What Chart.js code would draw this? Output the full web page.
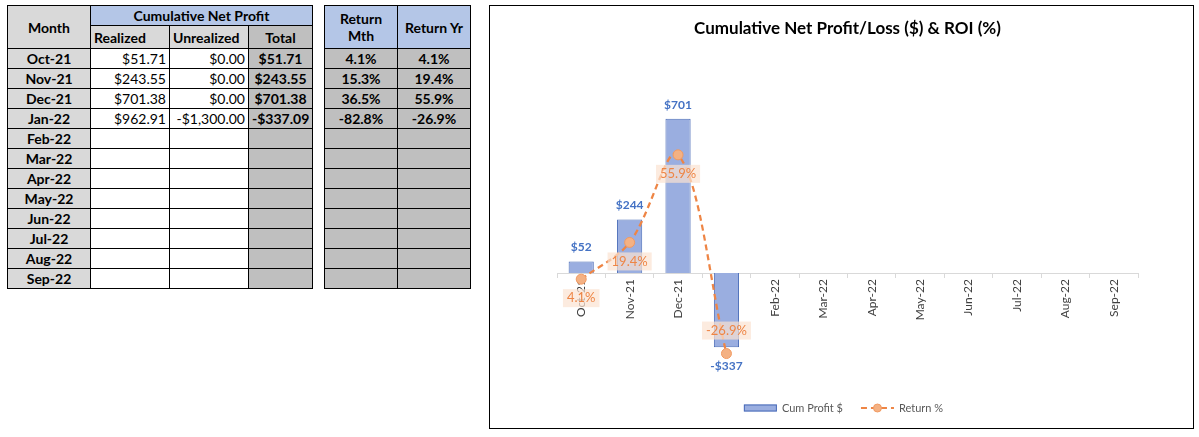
<!DOCTYPE html>
<html>
<head>
<meta charset="utf-8">
<script src="https://cdn.jsdelivr.net/npm/chart.js@4.4.0/dist/chart.umd.min.js"></script>
<style>
  body { margin: 0; background: #fff; font-family: Lato, "Open Sans", sans-serif; }
  table { position: absolute; border-collapse: collapse; table-layout: fixed; font-size: 14px; }
  td, th { border: 1px solid #000; padding: 0 3px; height: 19px; white-space: nowrap; overflow: hidden; }
  th { font-weight: bold; }
  .gray { background: #d9d9d9; }
  .dark { background: #bfbfbf; }
  .blue { background: #b4c6e7; }
  .num { text-align: right; }
  .ctr { text-align: center; font-weight: bold; }
  .lft { text-align: left; }
  #profitTable { left: 7px; top: 5px; width: 305px; }
  #returnTable { left: 324px; top: 5px; width: 146px; }
  #chartBox { position: absolute; left: 489px; top: 5px; width: 703px; height: 422px; border: 1px solid #000; }
</style>
</head>
<body>
<table id="profitTable">
  <colgroup><col style="width:83px"><col style="width:79px"><col style="width:79px"><col style="width:64px"></colgroup>
  <thead>
    <tr style="height:20px"><th rowspan="2" class="gray">Month</th><th colspan="3" class="blue">Cumulative Net Profit</th></tr>
    <tr style="height:23px"><th class="gray lft">Realized</th><th class="gray lft">Unrealized</th><th class="dark">Total</th></tr>
  </thead>
  <tbody id="profitBody"></tbody>
</table>
<table id="returnTable">
  <colgroup><col style="width:73px"><col style="width:73px"></colgroup>
  <thead>
    <tr style="height:20px"><th rowspan="2" class="blue">Return<br>Mth</th><th rowspan="2" class="blue">Return Yr</th></tr>
    <tr style="height:23px"></tr>
  </thead>
  <tbody id="returnBody"></tbody>
</table>
<div id="chartBox"><canvas id="roiChart"></canvas></div>
<script>
// Months and values
const months = ['Oct-21', 'Nov-21', 'Dec-21', 'Jan-22', 'Feb-22', 'Mar-22',
                'Apr-22', 'May-22', 'Jun-22', 'Jul-22', 'Aug-22', 'Sep-22'];
const realized = [51.71, 243.55, 701.38, 962.91];
const unrealized = [0, 0, 0, -1300];
const cumProfit = [51.71, 243.55, 701.38, -337.09];
const returnMth = [4.1, 15.3, 36.5, -82.8];
const returnYr = [4.1, 19.4, 55.9, -26.9];

function money(v) {
    const s = '$' + Math.abs(v).toLocaleString('en-US', { minimumFractionDigits: 2, maximumFractionDigits: 2 });
    return v < 0 ? '-' + s : s;
}

// Fill the two tables
const profitBody = document.getElementById('profitBody');
const returnBody = document.getElementById('returnBody');
months.forEach((m, i) => {
    const has = i < cumProfit.length;
    const tr = document.createElement('tr');
    tr.style.height = '20px';
    tr.innerHTML = `<td class="gray ctr">${m}</td>` +
        `<td class="num">${has ? money(realized[i]) : ''}</td>` +
        `<td class="num">${has ? money(unrealized[i]) : ''}</td>` +
        `<td class="dark ctr">${has ? money(cumProfit[i]) : ''}</td>`;
    profitBody.appendChild(tr);

    const tr2 = document.createElement('tr');
    tr2.style.height = '20px';
    tr2.innerHTML = `<td class="dark ctr">${has ? returnMth[i].toFixed(1) + '%' : ''}</td>` +
        `<td class="dark ctr">${has ? returnYr[i].toFixed(1) + '%' : ''}</td>`;
    returnBody.appendChild(tr2);
});

const BLUE_FILL = '#9aaee0';
const BLUE_EDGE = '#4a6cb8';
const ORANGE = '#ee8545';

// Value labels on bars and points
const labelPlugin = {
    id: 'valueLabels',
    afterDatasetsDraw(chart) {
        const ctx = chart.ctx;
        ctx.save();
        ctx.textAlign = 'center';
        ctx.textBaseline = 'middle';

        const barMeta = chart.getDatasetMeta(0);
        ctx.font = 'bold 12px Lato';
        ctx.fillStyle = '#4472c4';
        barMeta.data.forEach((el, i) => {
            const v = cumProfit[i];
            const txt = (v < 0 ? '-$' : '$') + Math.round(Math.abs(v));
            const y = v >= 0 ? el.y - 14 : el.y + 19;
            ctx.fillText(txt, el.x, y);
        });

        const lineMeta = chart.getDatasetMeta(1);
        ctx.font = '13px Lato';
        lineMeta.data.forEach((el, i) => {
            const v = returnYr[i];
            const txt = v.toFixed(1) + '%';
            const y = v >= 0 ? el.y + 19 : el.y - 23;
            const w = ctx.measureText(txt).width + 8;
            ctx.fillStyle = 'rgba(251, 226, 210, 0.7)';
            ctx.fillRect(el.x - w / 2, y - 9, w, 18);
            ctx.fillStyle = ORANGE;
            ctx.fillText(txt, el.x, y);
        });
        ctx.restore();
    }
};

// Bottom legend with a dashed line + marker for the ROI series
const legendPlugin = {
    id: 'bottomLegend',
    afterDraw(chart) {
        const ctx = chart.ctx;
        ctx.save();
        ctx.font = '11px Lato';
        ctx.textBaseline = 'middle';
        const t1 = 'Cum Profit $', t2 = 'Return %';
        const w1 = ctx.measureText(t1).width, w2 = ctx.measureText(t2).width;
        const total = 33 + 5 + w1 + 18 + 33 + 5 + w2;
        let x = chart.width / 2 - total / 2 + 2;
        const y = 402;

        ctx.fillStyle = BLUE_FILL;
        ctx.strokeStyle = BLUE_EDGE;
        ctx.lineWidth = 1;
        ctx.fillRect(x, y - 3.5, 33, 7);
        ctx.strokeRect(x + 0.5, y - 3, 32, 6);
        x += 38;
        ctx.fillStyle = '#595959';
        ctx.fillText(t1, x, y);
        x += w1 + 18;

        ctx.strokeStyle = ORANGE;
        ctx.lineWidth = 2;
        ctx.setLineDash([6, 4]);
        ctx.beginPath();
        ctx.moveTo(x, y);
        ctx.lineTo(x + 33, y);
        ctx.stroke();
        ctx.setLineDash([]);
        ctx.fillStyle = '#f4b183';
        ctx.beginPath();
        ctx.arc(x + 16.5, y, 4, 0, Math.PI * 2);
        ctx.fill();
        ctx.strokeStyle = '#f19a62';
        ctx.lineWidth = 1;
        ctx.stroke();
        x += 38;
        ctx.fillStyle = '#595959';
        ctx.fillText(t2, x, y);
        ctx.restore();
    }
};

Chart.defaults.font.family = 'Lato';

new Chart(document.getElementById('roiChart').getContext('2d'), {
    data: {
        labels: months,
        datasets: [{
            type: 'bar',
            label: 'Cum Profit $',
            data: cumProfit,
            yAxisID: 'y',
            backgroundColor: BLUE_FILL,
            borderColor: BLUE_EDGE,
            borderWidth: 1,
            barPercentage: 0.52,
            categoryPercentage: 1,
            order: 1
        }, {
            type: 'line',
            label: 'Return %',
            data: returnYr,
            yAxisID: 'y1',
            borderColor: ORANGE,
            borderWidth: 2.25,
            borderDash: [6, 4],
            tension: 0.35,
            pointRadius: 5,
            pointBackgroundColor: '#f4b183',
            pointBorderColor: '#f19a62',
            pointBorderWidth: 1,
            order: 0
        }]
    },
    options: {
        responsive: true,
        maintainAspectRatio: false,
        animation: false,
        layout: { padding: { left: 67, right: 55, top: 0, bottom: 67 } },
        plugins: {
            legend: { display: false },
            tooltip: { enabled: false },
            title: {
                display: true,
                text: 'Cumulative Net Profit/Loss ($) & ROI (%)',
                color: '#000',
                font: { size: 17, weight: 'bold' },
                padding: { top: 12, bottom: 58.6 }
            }
        },
        scales: {
            x: {
                type: 'category',
                position: { y: 0 },
                offset: true,
                grid: { offset: true, drawOnChartArea: false, drawTicks: true, tickLength: 4, color: '#d9d9d9' },
                border: { color: '#d9d9d9' },
                ticks: { minRotation: 90, maxRotation: 90, autoSkip: false, color: '#404040', font: { size: 12 }, padding: 2 }
            },
            y: { display: false, min: -400, max: 800 },
            y1: { display: false, min: -30, max: 80 }
        }
    },
    plugins: [labelPlugin, legendPlugin]
});
</script>
</body>
</html>
